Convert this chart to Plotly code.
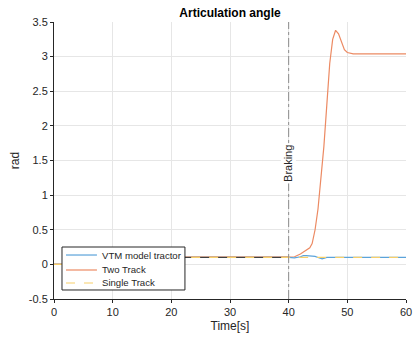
import plotly.graph_objects as go

# Time axes / values
t_pre = [0, 5, 5.01, 22, 40]
vtm_pre = [0, 0, 0.1, 0.1, 0.1]

t_vtm = [40, 41, 42, 42.5, 43, 44, 44.5, 45, 45.7, 46.5, 48, 50, 55, 60]
vtm = [0.1, 0.095, 0.11, 0.125, 0.125, 0.12, 0.115, 0.1, 0.08, 0.1, 0.1, 0.1, 0.1, 0.1]

t_two = [0, 5, 5.01, 40, 41, 42, 43, 43.6, 44, 44.5, 45, 45.5, 46, 46.5, 47, 47.5, 48, 48.5, 49, 49.5, 50, 51, 55, 60]
two = [0, 0, 0.1, 0.1, 0.11, 0.15, 0.2, 0.24, 0.3, 0.5, 0.8, 1.2, 1.7, 2.3, 2.9, 3.25, 3.38, 3.33, 3.2, 3.1, 3.06, 3.04, 3.04, 3.04]

t_single = [0, 5, 5.01, 60]
single = [0, 0, 0.1, 0.1]

x_ticks = [0, 10, 20, 30, 40, 50, 60]
y_ticks = [-0.5, 0, 0.5, 1, 1.5, 2, 2.5, 3, 3.5]
y_tick_text = ["-0.5", "0", "0.5", "1", "1.5", "2", "2.5", "3", "3.5"]

legend_names = ["VTM model tractor", "Two Track", "Single Track"]

braking_time = 40
braking_label_y = 1.46

BLUE, ORANGE, YELLOW = "#5BA3DA", "#EC8A63", "#F7CF6B"
legend_colors = [BLUE, ORANGE, YELLOW]
legend_dash = ["solid", "solid", "dash"]

font = "Liberation Sans, Arial, sans-serif"
fig = go.Figure()

fig.add_trace(go.Scatter(x=t_two, y=two, mode="lines", name="Two Track",
                         line=dict(color=ORANGE, width=1.2)))
fig.add_trace(go.Scatter(x=t_pre, y=vtm_pre, mode="lines", name="pre",
                         line=dict(color="#404040", width=1.3)))
fig.add_trace(go.Scatter(x=t_vtm, y=vtm, mode="lines", name="VTM model tractor",
                         line=dict(color=BLUE, width=1.2)))
fig.add_trace(go.Scatter(x=t_single, y=single, mode="lines", name="Single Track",
                         line=dict(color=YELLOW, width=1.2, dash="dash")))

fig.add_vline(x=braking_time, line=dict(color="#8c8c8c", width=1, dash="dashdot"))
fig.add_annotation(x=braking_time, y=braking_label_y, text="Braking", textangle=-90,
                   showarrow=False, bgcolor="white", font=dict(size=11, color="#262626"))

# manual legend (box, sample lines, labels) in paper coordinates
fig.add_shape(type="rect", xref="paper", yref="paper", x0=0.0227, x1=0.372, y0=0.0325, y1=0.1877,
              fillcolor="white", line=dict(color="#262626", width=1), layer="above")
row_y = [0.1588, 0.1047, 0.0578]
for name, col, dsh, yy in zip(legend_names, legend_colors, legend_dash, row_y):
    fig.add_shape(type="line", xref="paper", yref="paper", x0=0.0341, x1=0.122, y0=yy, y1=yy,
                  line=dict(color=col, width=1.2, dash=dsh), layer="above")
    fig.add_annotation(xref="paper", yref="paper", x=0.1305, y=yy, text=name, showarrow=False,
                       xanchor="left", yanchor="middle", font=dict(size=9.6, color="#262626"))

axis_common = dict(showgrid=True, gridcolor="#e6e6e6", gridwidth=1, zeroline=False,
                   showline=True, linecolor="#262626", linewidth=1, ticks="outside",
                   ticklen=3, tickcolor="#262626", tickfont=dict(size=11, color="#262626"),
                   automargin=False)

fig.update_layout(
    width=416, height=338,
    margin=dict(l=54, r=10, t=22, b=39),
    plot_bgcolor="white", paper_bgcolor="white",
    font=dict(family=font, color="#262626"),
    showlegend=False,
    title=dict(text="<b>Articulation angle</b>", x=0.5, xref="paper", xanchor="center",
               y=1 - 13 / 338, yanchor="middle", font=dict(size=12, color="#000000")),
    xaxis=dict(range=[0, 60], tickvals=x_ticks,
               title=dict(text="Time[s]", font=dict(size=12), standoff=4), **axis_common),
    yaxis=dict(range=[-0.5, 3.5], tickvals=y_ticks, ticktext=y_tick_text,
               title=dict(text="rad", font=dict(size=12), standoff=6), **axis_common),
)

fig.write_html("out.html")
